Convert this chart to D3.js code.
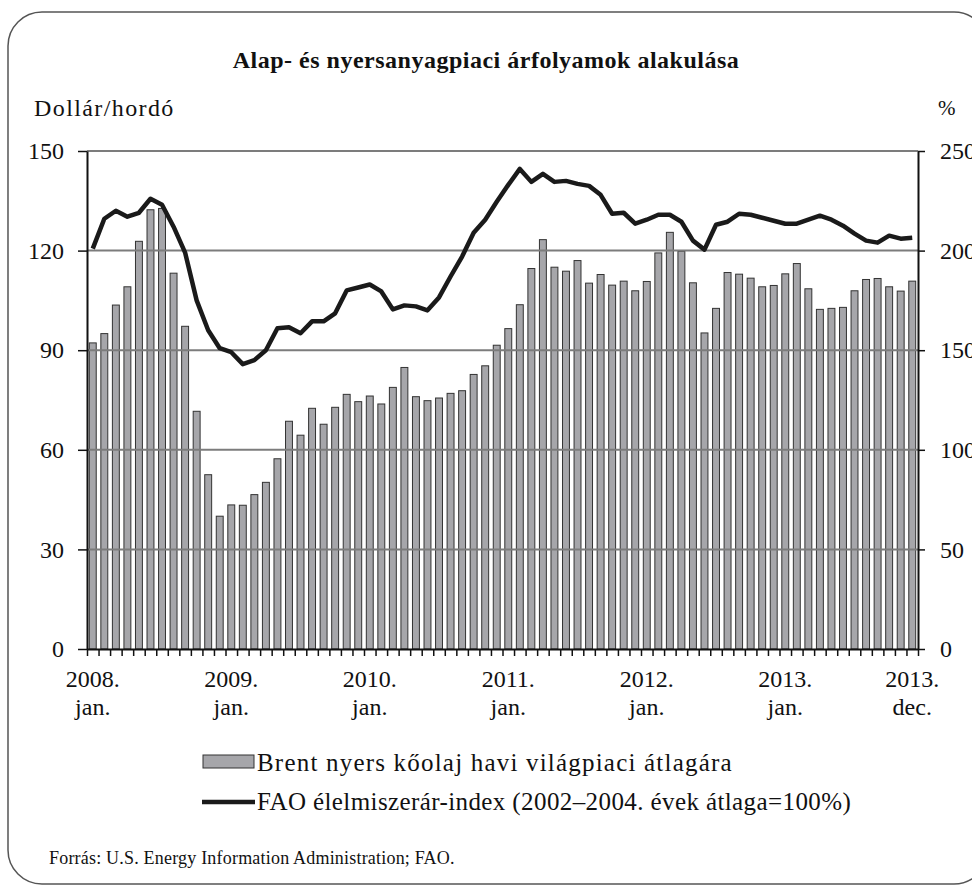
<!DOCTYPE html>
<html>
<head>
<meta charset="utf-8">
<script src="https://cdn.jsdelivr.net/npm/d3@7"></script>
<style>
  body { margin: 0; background: #fff; }
  svg text { font-family: "Liberation Serif", "Times New Roman", serif; fill: #111; }
</style>
</head>
<body>
<div id="chart-area"></div>
<script>
// Brent monthly averages (USD/barrel), 2008 jan - 2013 dec
var brent = [
  92.2, 95.0, 103.6, 109.1, 122.8, 132.3, 132.7, 113.2, 97.2, 71.6, 52.5, 40.0,
  43.4, 43.3, 46.5, 50.2, 57.3, 68.6, 64.4, 72.5, 67.7, 72.8, 76.7, 74.5,
  76.2, 73.8, 78.8, 84.8, 76.0, 74.8, 75.6, 77.0, 77.8, 82.7, 85.3, 91.5,
  96.5, 103.7, 114.6, 123.3, 115.0, 113.8, 117.0, 110.2, 112.8, 109.6, 110.8, 107.9,
  110.7, 119.3, 125.5, 119.8, 110.3, 95.2, 102.6, 113.4, 112.9, 111.7, 109.1, 109.5,
  113.0, 116.1, 108.5, 102.3, 102.6, 102.9, 107.9, 111.3, 111.6, 109.1, 107.8, 110.8
];

// FAO food price index (2002-2004 = 100%)
var fao = [
  201, 216, 220, 217, 219, 226, 223, 212, 199, 175, 160, 151,
  149, 143, 145, 150, 161, 161.5, 158.5, 164.5, 164.5, 168.5, 180, 181.5,
  183, 179.5, 170.5, 172.5, 172, 170, 176.5, 187, 197, 209, 215.5, 224.5,
  233, 241, 234.5, 238.5, 234.5, 235, 233.5, 232.5, 228, 218.5, 219, 213.5,
  215.5, 218, 218, 214.5, 205, 200.5, 213, 214.5, 218.5, 218, 216.5, 215,
  213.5, 213.5, 215.5, 217.5, 215.5, 212.5, 208.5, 205, 204, 207.5, 206, 206.5
];

var leftTicks = [0, 30, 60, 90, 120, 150];
var rightTicks = [0, 50, 100, 150, 200, 250];
var xLabels = [
  {i: 0, year: "2008.", month: "jan."},
  {i: 12, year: "2009.", month: "jan."},
  {i: 24, year: "2010.", month: "jan."},
  {i: 36, year: "2011.", month: "jan."},
  {i: 48, year: "2012.", month: "jan."},
  {i: 60, year: "2013.", month: "jan."},
  {i: 71, year: "2013.", month: "dec."}
];

var W = 972, H = 887;
var plotLeft = 87, plotRight = 918, plotTop = 151, plotBottom = 649;

var svg = d3.select("#chart-area")
  .append("svg")
    .attr("width", W)
    .attr("height", H);

// frame (right side runs off the picture)
svg.append("rect")
  .attr("x", 8).attr("y", 12)
  .attr("width", 980).attr("height", 872)
  .attr("rx", 34).attr("ry", 34)
  .attr("fill", "none")
  .attr("stroke", "#555")
  .attr("stroke-width", 1.5);

// title
svg.append("text")
  .attr("x", 486).attr("y", 68)
  .attr("text-anchor", "middle")
  .attr("font-size", "24px")
  .attr("font-weight", "bold")
  .attr("letter-spacing", "0.5px")
  .text("Alap- és nyersanyagpiaci árfolyamok alakulása");

svg.append("text")
  .attr("x", 34).attr("y", 116)
  .attr("font-size", "24px")
  .attr("letter-spacing", "1.4px")
  .text("Dollár/hordó");

svg.append("text")
  .attr("x", 938).attr("y", 115)
  .attr("font-size", "21px")
  .text("%");

// scales
var months = d3.range(brent.length);
var x = d3.scaleBand()
  .domain(months)
  .range([plotLeft, plotRight])
  .paddingInner(0.4)
  .paddingOuter(0.2);

var xTick = d3.scaleLinear().domain([0, months.length]).range([plotLeft, plotRight]);

var yL = d3.scaleLinear().domain([0, 150]).range([plotBottom, plotTop]);
var yR = d3.scaleLinear().domain([0, 250]).range([plotBottom, plotTop]);

// bars
svg.append("g")
  .selectAll("rect")
  .data(brent)
  .enter()
  .append("rect")
    .attr("x", function (d, i) { return x(i); })
    .attr("width", x.bandwidth())
    .attr("y", function (d) { return yL(d); })
    .attr("height", function (d) { return plotBottom - yL(d); })
    .attr("fill", "#a6a6aa")
    .attr("stroke", "#333")
    .attr("stroke-width", 1);

// gridlines
svg.append("g")
  .selectAll("line")
  .data(leftTicks.filter(function (d) { return d > 0; }))
  .enter()
  .append("line")
    .attr("x1", plotLeft).attr("x2", plotRight)
    .attr("y1", function (d) { return yL(d); })
    .attr("y2", function (d) { return yL(d); })
    .attr("stroke", "#7c7c7c")
    .attr("stroke-width", 2);

// left axis
var yAxisL = svg.append("g")
  .attr("transform", "translate(" + plotLeft + ",0)")
  .call(d3.axisLeft(yL).tickValues(leftTicks).tickSize(9).tickPadding(14).tickSizeOuter(0));

// right axis
var yAxisR = svg.append("g")
  .attr("transform", "translate(" + plotRight + ",0)")
  .call(d3.axisRight(yR).tickValues(rightTicks).tickSize(7).tickPadding(15).tickSizeOuter(0));

// bottom axis, ticks between the months
var xAxis = svg.append("g")
  .attr("transform", "translate(0," + plotBottom + ")")
  .call(d3.axisBottom(xTick).tickValues(d3.range(months.length + 1)).tickFormat("").tickSize(7).tickSizeOuter(0));

[yAxisL, yAxisR, xAxis].forEach(function (g) {
  g.selectAll("path").attr("stroke", "#111").attr("stroke-width", 2);
  g.selectAll("line").attr("stroke", "#111").attr("stroke-width", 1.5);
  g.selectAll("text")
    .attr("font-size", "24px")
    .style("font-family", "'Liberation Serif', serif")
    .attr("fill", "#111");
});

// x labels
var xl = svg.append("g").selectAll("g")
  .data(xLabels)
  .enter()
  .append("g")
    .attr("transform", function (d) { return "translate(" + (x(d.i) + x.bandwidth() / 2) + ",0)"; });
xl.append("text")
  .attr("y", 687)
  .attr("text-anchor", "middle")
  .attr("font-size", "24px")
  .text(function (d) { return d.year; });
xl.append("text")
  .attr("y", 715)
  .attr("text-anchor", "middle")
  .attr("font-size", "24px")
  .text(function (d) { return d.month; });

// FAO line
var line = d3.line()
  .x(function (d, i) { return x(i) + x.bandwidth() / 2; })
  .y(function (d) { return yR(d); });

svg.append("path")
  .datum(fao)
  .attr("d", line)
  .attr("fill", "none")
  .attr("stroke", "#1a1a1a")
  .attr("stroke-width", 4.5)
  .attr("stroke-linejoin", "round");

// legend
svg.append("rect")
  .attr("x", 203).attr("y", 755)
  .attr("width", 51).attr("height", 13)
  .attr("fill", "#a6a6aa")
  .attr("stroke", "#333")
  .attr("stroke-width", 1);
svg.append("text")
  .attr("x", 257).attr("y", 771)
  .attr("font-size", "25px")
  .attr("letter-spacing", "1.2px")
  .text("Brent nyers kőolaj havi világpiaci átlagára");

svg.append("line")
  .attr("x1", 202).attr("x2", 255)
  .attr("y1", 802).attr("y2", 802)
  .attr("stroke", "#1a1a1a")
  .attr("stroke-width", 4.5);
svg.append("text")
  .attr("x", 257).attr("y", 810)
  .attr("font-size", "25px")
  .attr("letter-spacing", "0.4px")
  .text("FAO élelmiszerár-index (2002–2004. évek átlaga=100%)");

// source
svg.append("text")
  .attr("x", 49).attr("y", 864)
  .attr("font-size", "18px")
  .attr("letter-spacing", "0.2px")
  .text("Forrás: U.S. Energy Information Administration; FAO.");
</script>
</body>
</html>
